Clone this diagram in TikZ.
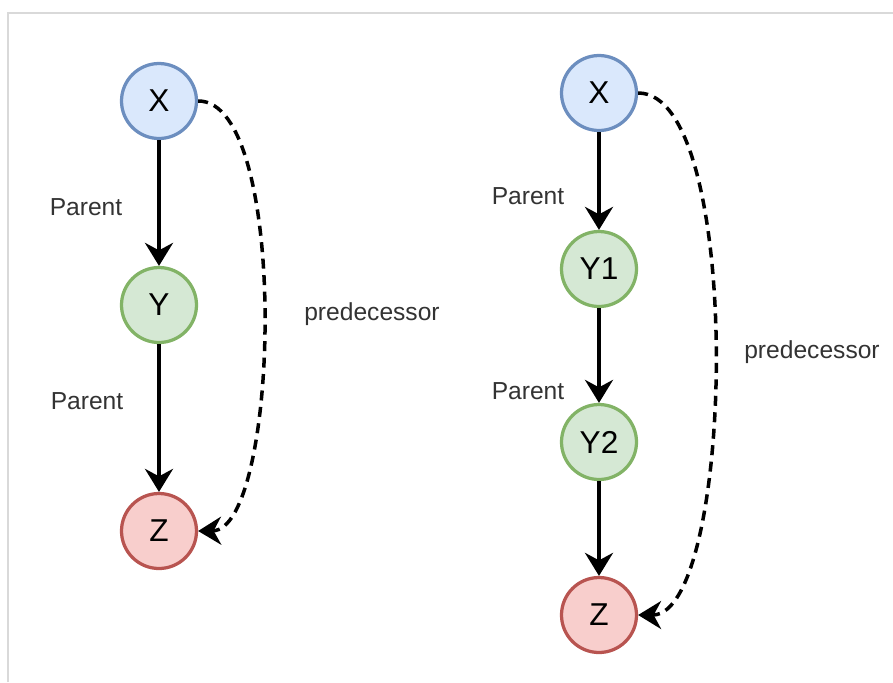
\documentclass[tikz,border=0pt]{standalone}
\usepackage{fontspec}
\setmainfont{Liberation Sans}
\usetikzlibrary{arrows.meta}
\definecolor{blueFill}{HTML}{DAE8FC}
\definecolor{blueLine}{HTML}{6C8EBF}
\definecolor{greenFill}{HTML}{D5E8D4}
\definecolor{greenLine}{HTML}{82B366}
\definecolor{redFill}{HTML}{F8CECC}
\definecolor{redLine}{HTML}{B85450}
\tikzset{
	vert/.style={circle, minimum size=1.5cm, inner sep=0pt, line width=0.065cm, font=\fontsize{18}{21}\selectfont},
	vertX/.style={vert, draw=blueLine, fill=blueFill},
	vertY/.style={vert, draw=greenLine, fill=greenFill},
	vertZ/.style={vert, draw=redLine, fill=redFill},
	lbl/.style={text=black!80, font=\fontsize{14}{16}\selectfont},
	par/.style={line width=0.075cm, -{Stealth[length=0.46cm, width=0.56cm, inset=0.15cm]}},
	pred/.style={line width=0.07cm, dash pattern=on 0.2cm off 0.13cm, -{Stealth[length=0.46cm, width=0.56cm, inset=0.15cm]}}
}

\begin{document}
\begin{tikzpicture}
		%%%%% START %%%%%
		\useasboundingbox (0, 0) rectangle (17.86, -13.64);
		\draw[line width=0.03cm, color=black!15] (0.16, -13.64) -- (0.16, -0.26) -- (17.86, -0.26);
		
		% left chain
		\node[vertX] (lx) at (3.18, -2.02) {X};
		\node[vertY] (ly) at (3.18, -6.1) {Y};
		\node[vertZ] (lz) at (3.18, -10.62) {Z};
		
		\draw[par] (lx) -- (ly);
		\draw[par] (ly) -- (lz);
		\draw[pred] (lx.east) .. controls (5.8, -2.0) and (5.6, -10.6) .. (lz.east);
		
		\node[lbl] (lp1) at (1.72, -4.14) {Parent};
		\node[lbl] (lp2) at (1.74, -8.02) {Parent};
		\node[lbl] (lpr) at (7.44, -6.28) {predecessor};
		
		% right chain
		\node[vertX] (rx) at (11.98, -1.86) {X};
		\node[vertY] (ry1) at (11.98, -5.38) {Y1};
		\node[vertY] (ry2) at (11.98, -8.84) {Y2};
		\node[vertZ] (rz) at (11.98, -12.3) {Z};
		
		\draw[par] (rx) -- (ry1);
		\draw[par] (ry1) -- (ry2);
		\draw[par] (ry2) -- (rz);
		\draw[pred] (rx.east) .. controls (14.9, -1.85) and (14.7, -12.3) .. (rz.east);
		
		\node[lbl] (rp1) at (10.56, -3.92) {Parent};
		\node[lbl] (rp2) at (10.56, -7.82) {Parent};
		\node[lbl] (rpr) at (16.24, -7.04) {predecessor};
		%%%%% END %%%%%
	\end{tikzpicture}
\end{document}
